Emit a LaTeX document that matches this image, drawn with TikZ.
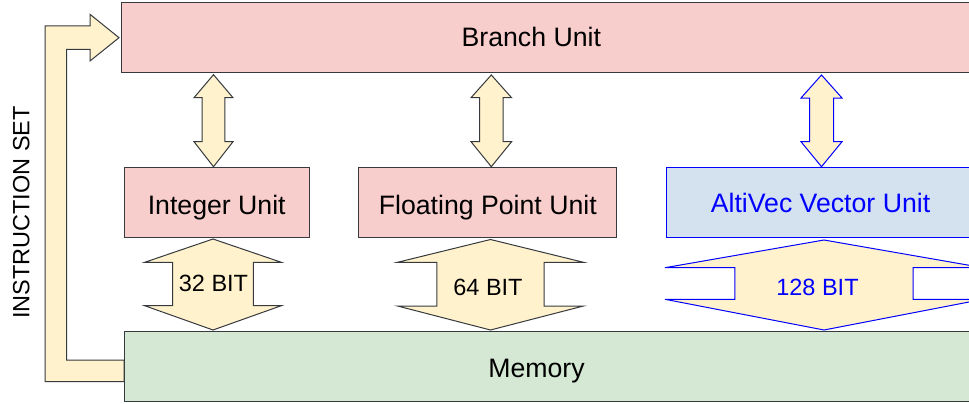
\documentclass[tikz,border=0pt]{standalone}
\usepackage{fontspec}
\setmainfont{Liberation Sans}
\definecolor{pinkc}{HTML}{F8CECC}
\definecolor{greenc}{HTML}{D5E8D4}
\definecolor{bluefill}{HTML}{D4E1EF}
\definecolor{yellowc}{HTML}{FFF2CC}
\definecolor{linec}{HTML}{36393D}
\definecolor{bluec}{HTML}{0000FF}
\newcommand{\vdarrow}[8]{%
  \draw[#1] (#2,#3) -- ({#2+#5},{#3+#7}) -- ({#2+#6},{#3+#7}) -- ({#2+#6},{#4-#8})
    -- ({#2+#5},{#4-#8}) -- (#2,#4) -- ({#2-#5},{#4-#8}) -- ({#2-#6},{#4-#8})
    -- ({#2-#6},{#3+#7}) -- ({#2-#5},{#3+#7}) -- cycle;}
\tikzset{
  box/.style={draw=linec, line width=1pt, inner sep=0pt, minimum height=70.2pt},
  big/.style={font=\fontsize{26.67pt}{30pt}\selectfont, inner sep=0pt, text height=19pt, text depth=0pt},
  small/.style={font=\fontsize{23.5pt}{28pt}\selectfont, anchor=base, inner sep=0pt},
  yarrow/.style={draw=linec, fill=yellowc, line width=1pt},
  barrow/.style={draw=bluec, fill=yellowc, line width=1pt},
}
\begin{document}
\begin{tikzpicture}[x=1pt,y=-1pt]
\clip (0,0) rectangle (969,404);
\fill[white] (0,0) rectangle (969,404);
% feedback arrow
\draw[yarrow] (124,360) -- (66.7,360) -- (66.7,49.3) -- (90,49.3) -- (90,61) -- (119,37.7)
  -- (90,14.3) -- (90,26) -- (45,26) -- (45,381.7) -- (124,381.7) -- cycle;
\node[small, rotate=90] (iset) at (29.3,212.5) {INSTRUCTION SET};
% boxes
\node[box, fill=pinkc, minimum width=879pt,
  label={[big, xshift=-29.2pt, yshift=0.5pt]center:Branch Unit}] (branch) at (560.5,37.7) {};
\node[box, fill=pinkc, minimum width=185.3pt,
  label={[big, yshift=-2.3pt]center:Integer Unit}] (intu) at (216.7,202.5) {};
\node[box, fill=pinkc, minimum width=257.7pt,
  label={[big, yshift=-2.8pt]center:Floating Point Unit}] (fpu) at (487.8,202.5) {};
\node[box, draw=bluec, fill=bluefill, minimum width=309pt,
  label={[big, text=bluec, yshift=0pt]center:AltiVec Vector Unit}] (avu) at (820.5,202.5) {};
\node[box, fill=greenc, minimum width=876pt,
  label={[big, xshift=-25.5pt, yshift=-0.8pt]center:Memory}] (mem) at (562,366.7) {};
% thin double arrows
\vdarrow{yarrow}{213.5}{74.7}{166.7}{19.5}{11.3}{23}{25}
\vdarrow{yarrow}{491.3}{75}{166.7}{20.3}{11.7}{22.7}{25}
\vdarrow{barrow}{821.5}{75}{166.7}{20.5}{12}{23}{25}
% wide double arrows
\vdarrow{yarrow}{213}{239}{330}{68.3}{40.3}{23.3}{24.3}
\vdarrow{yarrow}{490.5}{239.5}{330}{93}{53.7}{22.8}{24}
\vdarrow{barrow}{824}{240}{330}{159}{89.2}{27.7}{30.7}
\node[small] (b32) at (213.5,291.7) {32 BIT};
\node[small] (b64) at (488,295) {64 BIT};
\node[small, text=bluec] (b128) at (817.5,295) {128 BIT};
\end{tikzpicture}
\end{document}
